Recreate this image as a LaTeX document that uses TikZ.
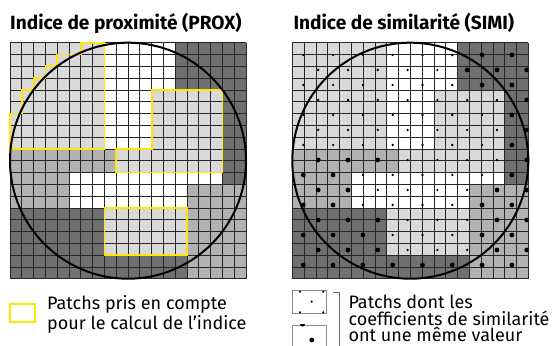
\documentclass[tikz,border=0pt]{standalone}
\usepackage{fontspec}
\setmainfont{Fira Sans}

\definecolor{lightpatch}{HTML}{D9D9D9}
\definecolor{midpatch}{HTML}{B1B1B1}
\definecolor{darkpatch}{HTML}{707070}
\definecolor{proxyellow}{HTML}{FFE500}

% fills and lines of the 20x20 patch grid (cell units)
\newcommand{\patchgrid}{%
  \fill[white] (0,0) rectangle (20,20);
  \fill[lightpatch] (0,0) rectangle (8,9);
  \fill[lightpatch] (12,4) rectangle (18,11);
  \fill[lightpatch] (9,9) rectangle (12,11);
  \fill[lightpatch] (8,14) rectangle (15,18);
  \fill[midpatch] (0,9) rectangle (9,11);
  \fill[midpatch] (0,11) rectangle (5,14);
  \fill[midpatch] (15,12) rectangle (20,20);
  \fill[darkpatch] (14,0) rectangle (20,4);
  \fill[darkpatch] (18,4) rectangle (20,12);
  \fill[darkpatch] (0,14) rectangle (8,18);
  \fill[darkpatch] (0,18) rectangle (15,20);
  \foreach \i in {0,...,20}{
    \draw[gridline] (\i,0) -- (\i,20);
    \draw[gridline] (0,\i) -- (20,\i);
  }
}

\begin{document}
\begin{tikzpicture}[
x=1pt,y=-1pt,
title/.style={anchor=base west,inner sep=0pt,
  font=\bfseries\fontsize{19.1}{21}\selectfont},
legendtext/.style={anchor=base west,inner sep=0pt,
  font=\fontsize{18}{20}\selectfont},
gridline/.style={draw=black!85,line width=0.7pt},
ring/.style={draw=black,line width=2pt},
yellowpatch/.style={draw=proxyellow,line width=1.8pt,line join=miter},
keybox/.style={rectangle,draw=black!45,line width=0.6pt,fill=white,
  minimum width=33.3pt,minimum height=23.3pt,inner sep=0pt},
smalldot/.style={fill=black},
bigdot/.style={fill=black}
]
\useasboundingbox (0,0) rectangle (556,345);

% =======================
% TITLES
% =======================

\node[title] (tprox) at (10,29.3) {Indice de proximité (PROX)};
\node[title] (tsimi) at (293.3,29.3) {Indice de similarité (SIMI)};

% =======================
% LEFT GRID (PROX)
% =======================

\begin{scope}[shift={(10,42.7)},x=11.8pt,y=-11.8pt]
\patchgrid
\draw[yellowpatch] (6,0) -- (8,0) -- (8,9) -- (0,9) -- (0,6) -- (1,6)
  -- (1,4) -- (2,4) -- (2,3) -- (3,3) -- (3,2) -- (4,2) -- (4,1)
  -- (6,1) -- cycle;
\draw[yellowpatch] (12,4) -- (18,4) -- (18,11) -- (9,11) -- (9,9)
  -- (12,9) -- cycle;
\draw[yellowpatch] (8,14) rectangle (15,18);
\draw[ring] (10,10) circle[radius=10];
\end{scope}

% =======================
% RIGHT GRID (SIMI)
% =======================

\begin{scope}[shift={(292.3,42.7)},x=11.8pt,y=-11.8pt]
\patchgrid
\begin{scope}
\clip (0,0) rectangle (20,20);
\foreach \j in {0,...,14}{
  \foreach \k in {0,...,7}{
    \pgfmathsetmacro{\dx}{0.932+2.525*\k+1.2625*mod(\j,2)}
    \pgfmathsetmacro{\dy}{1.042+1.271*\j}
    \pgfmathtruncatemacro{\cc}{floor(\dx)}
    \pgfmathtruncatemacro{\rr}{floor(\dy)}
    \pgfmathtruncatemacro{\isbig}{((\rr<=3)&&(\cc>=14)) || ((\rr<=11)&&(\cc>=18))
      || ((\rr>=9)&&(\rr<=10)&&(\cc<=8)) || ((\rr>=9)&&(\rr<=13)&&(\cc<=4))
      || ((\rr>=12)&&(\cc>=15)) || ((\rr>=14)&&(\cc<=7)) || (\rr>=18)}
    \ifnum\isbig=1
      \fill[bigdot] (\dx,\dy) circle[radius=2.4pt];
    \else
      \fill[smalldot] (\dx,\dy) circle[radius=1.3pt];
    \fi
  }
}
\end{scope}
\draw[ring] (10,10) circle[radius=10];
\end{scope}

% =======================
% LEGEND
% =======================

\node[rectangle,draw=proxyellow,line width=1.8pt,minimum width=25pt,
  minimum height=17.7pt,inner sep=0pt] (keyprox) at (22.5,312.9) {};
\node[legendtext] (lprox1) at (47,309.5) {Patchs pris en compte};
\node[legendtext] (lprox2) at (47,329.5) {pour le calcul de l’indice};

\node[keybox] (keysmall) at (309.35,301.65) {};
\foreach \p in {(300,291.7),(323.3,291.7),(311.7,301.7),(300,312.3),(323.3,312.3)}
  \fill[smalldot] \p circle[radius=1.2pt];

\node[keybox,minimum height=26pt] (keybig) at (309.35,338) {};
\begin{scope}
\clip (keybig.south west) rectangle (keybig.north east);
\fill[bigdot] (302.5,324.2) circle[radius=2.4pt];
\end{scope}
\fill[bigdot] (311.7,340) circle[radius=2.4pt];

\coordinate (brtop) at (339.3,292);
\coordinate (brbot) at (339.3,350);
\draw[black!60,line width=0.7pt] ([xshift=-6pt]brtop) -- (brtop) -- (brbot);

\node[legendtext] (lsimi1) at (348.3,308) {Patchs dont les};
\node[legendtext] (lsimi2) at (348.3,325) {coefficients de similarité};
\node[legendtext] (lsimi3) at (348.3,341.5) {ont une même valeur};

\end{tikzpicture}
\end{document}
